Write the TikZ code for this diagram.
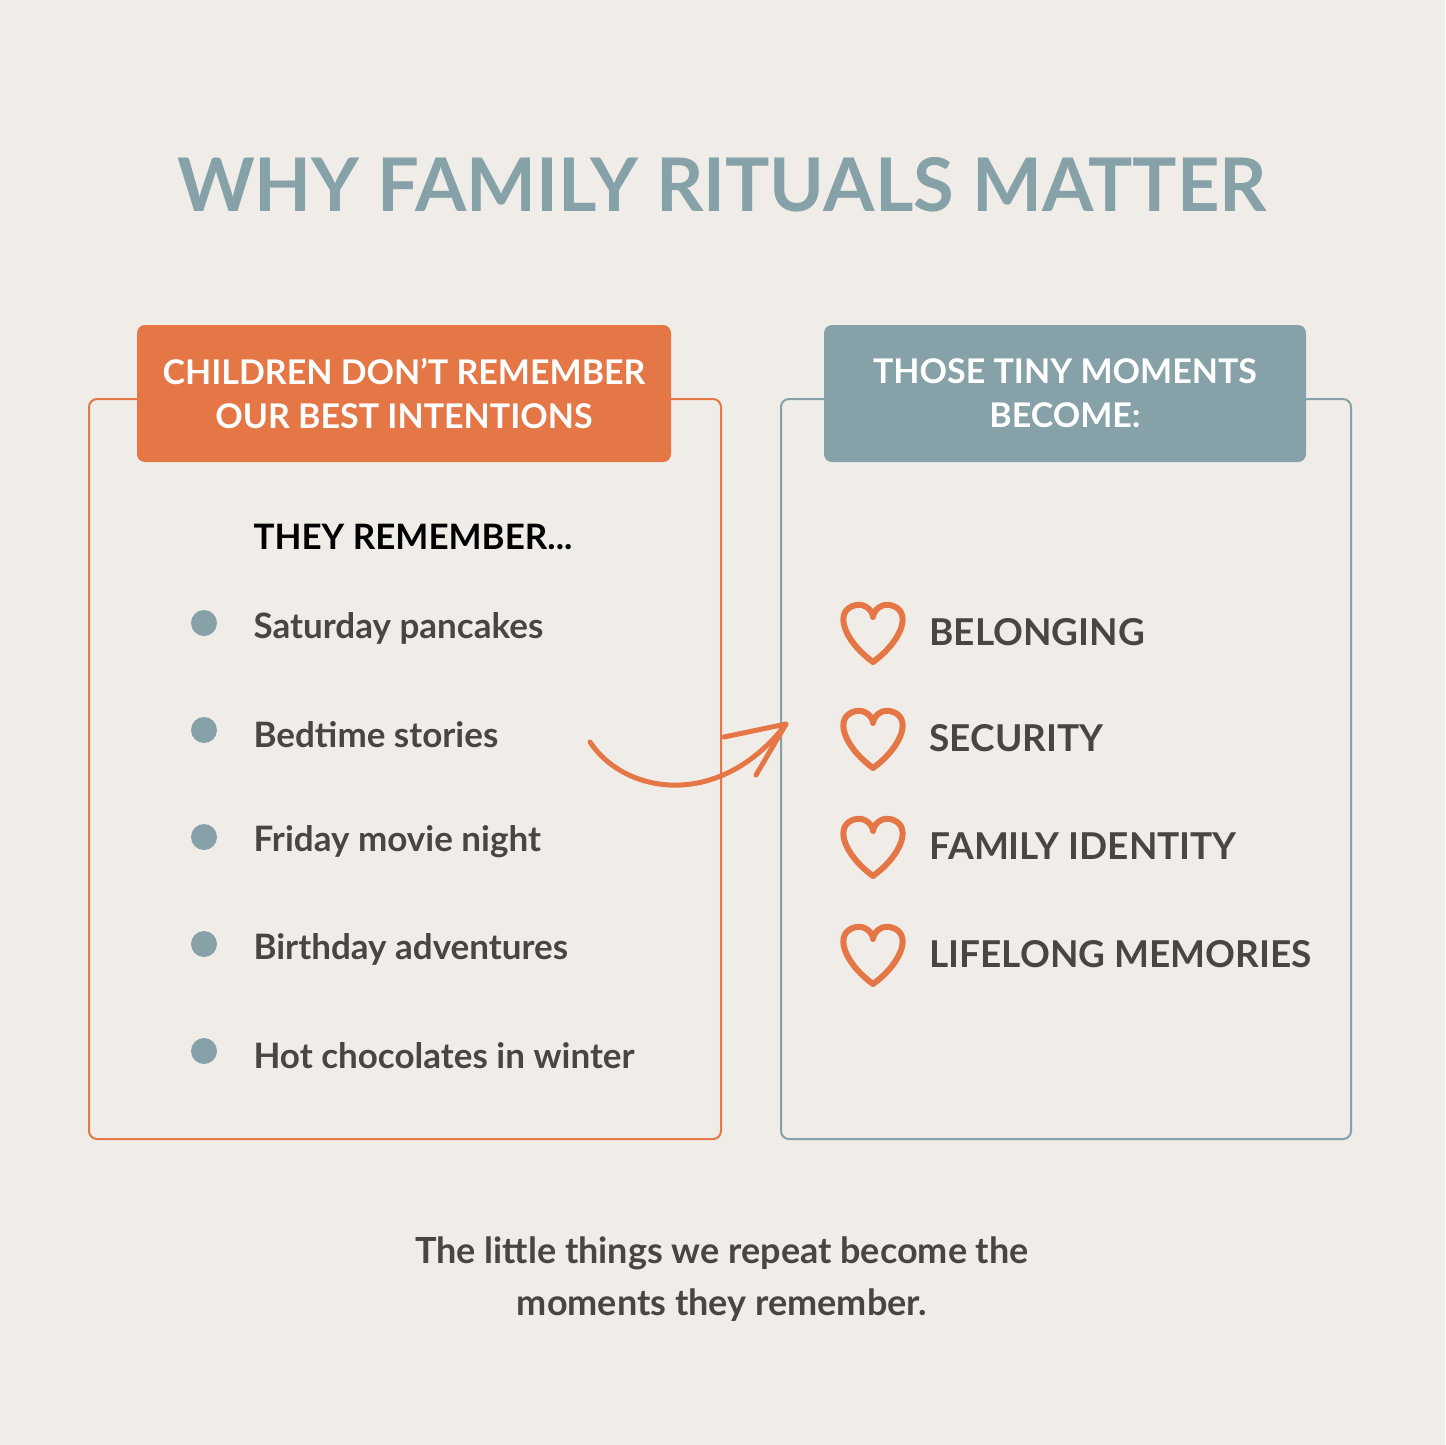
\documentclass[tikz,border=0pt]{standalone}
\usepackage{fontspec}
\setmainfont{Lato}
\definecolor{bg}{HTML}{F0EDE9}
\definecolor{teal}{HTML}{86A2A8}
\definecolor{org}{HTML}{E57645}
\definecolor{txt}{HTML}{4A4443}
\begin{document}
\begin{tikzpicture}[x=1pt,y=-1pt,
  hdr/.style={rounded corners=8pt,minimum width=#1, minimum height=137pt,align=center,text=white,font=\fontsize{34}{44}\selectfont\bfseries},
  item/.style={anchor=west,text=txt,font=\fontsize{35}{40}\selectfont\bfseries},
  dot/.style={circle,fill=teal,minimum size=26pt,inner sep=0pt},
  heart/.style={draw=org,line width=6pt,line join=round}]
\fill[bg] (0,0) rectangle (1445,1445);
\useasboundingbox (0,0) rectangle (1445,1445);
\node[text=teal,font=\fontsize{74}{80}\selectfont\bfseries] (title) at (722,185) {WHY FAMILY RITUALS MATTER};
\draw[org,line width=2pt,rounded corners=8pt] (89,399) rectangle (721,1139);
\draw[teal,line width=2pt,rounded corners=8pt] (781,399) rectangle (1351,1139);
\node[hdr=534pt,fill=org] (lh) at (404,393.5) {CHILDREN DON’T REMEMBER\\OUR BEST INTENTIONS};
\node[hdr=482pt,fill=teal] (rh) at (1065,393.5) {THOSE TINY MOMENTS\\BECOME:};
\node[anchor=west,font=\fontsize{35}{40}\selectfont\bfseries] (they) at (250,537) {THEY REMEMBER...};
\foreach \t/\y [count=\i] in {Saturday pancakes/625,Bedtime stories/732,Friday movie night/839,Birthday adventures/946,Hot chocolates in winter/1053}{
  \node[dot] (d\i) at (204,\y-2) {};
  \node[item] (i\i) at (250,\y+3) {\t};
}
\foreach \t/\y [count=\i] in {BELONGING/632,SECURITY/738,FAMILY IDENTITY/846,LIFELONG MEMORIES/954}{
  \draw[heart,shift={(873,\y)}] (0,30) .. controls (-30,8) and (-40,-22) .. (-17,-27) .. controls (-7,-29) and (0,-20) .. (0,-15) .. controls (0,-20) and (7,-29) .. (17,-27) .. controls (40,-22) and (30,8) .. (0,30) -- cycle;
  \node[item,font=\fontsize{37}{40}\selectfont\bfseries] (h\i) at (926,\y) {\t};
}
\coordinate (as) at (590,742);
\coordinate (ae) at (786,724);
\draw[org,line width=5pt,line cap=round] (as) .. controls (625,795) and (720,810) .. (ae);
\draw[org,line width=5pt,line cap=round,line join=round] (724,737) -- (ae) -- (756,775);
\node[text=txt,align=center,font=\fontsize{36}{52}\selectfont\bfseries] (foot) at (722,1279) {The little things we repeat become the\\moments they remember.};
\end{tikzpicture}
\end{document}
